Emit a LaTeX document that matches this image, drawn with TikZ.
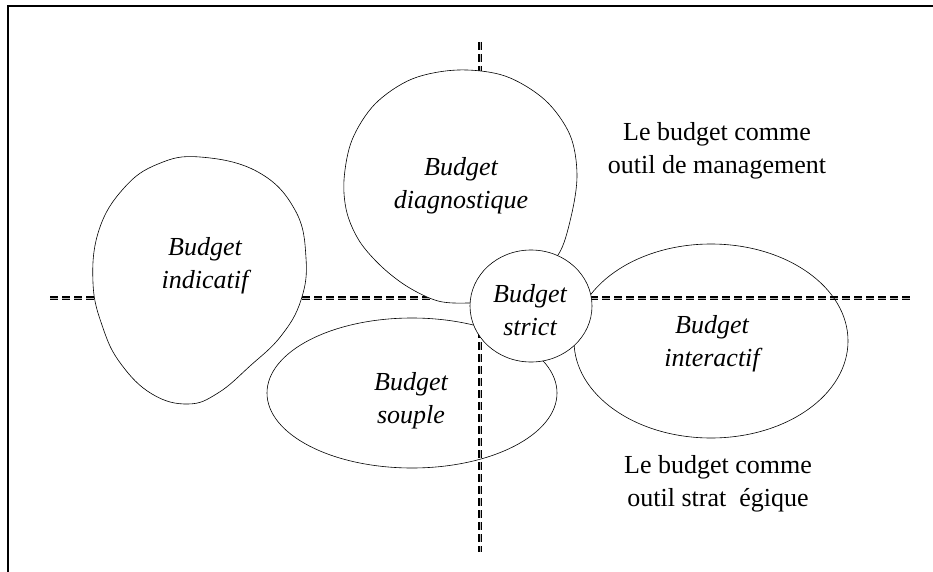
\documentclass[tikz,border=0pt]{standalone}
\usepackage{fontspec}
\setmainfont{Liberation Serif}
\begin{document}
\begin{tikzpicture}[x=1pt,y=-1pt,
  outline/.style={draw=black, line width=0.6pt},
  axisline/.style={draw=black, line width=1.1pt, double=gray!55, double distance=0.9pt, dash pattern=on 8pt off 4pt},
  lbl/.style={font=\fontsize{26}{33}\selectfont\itshape, align=center, inner sep=0pt},
  note/.style={font=\fontsize{26}{33}\selectfont, align=center, inner sep=0pt}]
\useasboundingbox (0,0) rectangle (933,572);
% frame (top and left)
\coordinate (fBL) at (7.8,572);
\coordinate (fTL) at (7.8,6.3);
\coordinate (fTR) at (933,6.3);
\draw[line width=2.2pt] (fBL) -- (fTL) -- (fTR);
% axes
\coordinate (hL) at (50,298);
\coordinate (hR) at (910,298);
\coordinate (vT) at (480,42);
\coordinate (vB) at (480,552);
\draw[axisline] (hL) -- (hR);
\draw[axisline] (vT) -- (vB);
% unfilled shapes
\draw[outline] (412,393) ellipse [x radius=145, y radius=75];
\draw[outline] (711,341) ellipse [x radius=137, y radius=97];
% filled shapes
\draw[outline, fill=white] plot[smooth cycle, tension=0.7] coordinates {
  (200,157) (258,172) (295,210) (306,258) (301,300) (281,336) (250,366)
  (218,393) (188,404) (152,394) (121,364) (103,328) (93,283) (99,230)
  (124,188) (158,164)};
\draw[outline, fill=white] plot[smooth cycle, tension=0.55] coordinates {
  (500,300) (468,303) (438,301) (408,287) (382,267) (360,242) (347,213)
  (344,180) (352,140) (375,104) (412,79) (458,70) (505,76) (545,100)
  (570,135) (577,175) (571,217) (558,255) (530,275)};
\draw[outline, fill=white] (531,306) ellipse [x radius=61, y radius=56];
% labels
\node[lbl] (tInd) at (205,266) {Budget\\indicatif};
\node[lbl] (tDia) at (461,186) {Budget\\diagnostique};
\node[lbl] (tStr) at (530,310) {Budget\\strict};
\node[lbl] (tSou) at (411,401) {Budget\\souple};
\node[lbl] (tInt) at (712,344) {Budget\\interactif};
\node[note] (tMan) at (717,151) {Le budget comme\\outil de management};
\node[note] (tStrat) at (718,484) {Le budget comme\\outil strat\ \ égique};
\end{tikzpicture}
\end{document}
